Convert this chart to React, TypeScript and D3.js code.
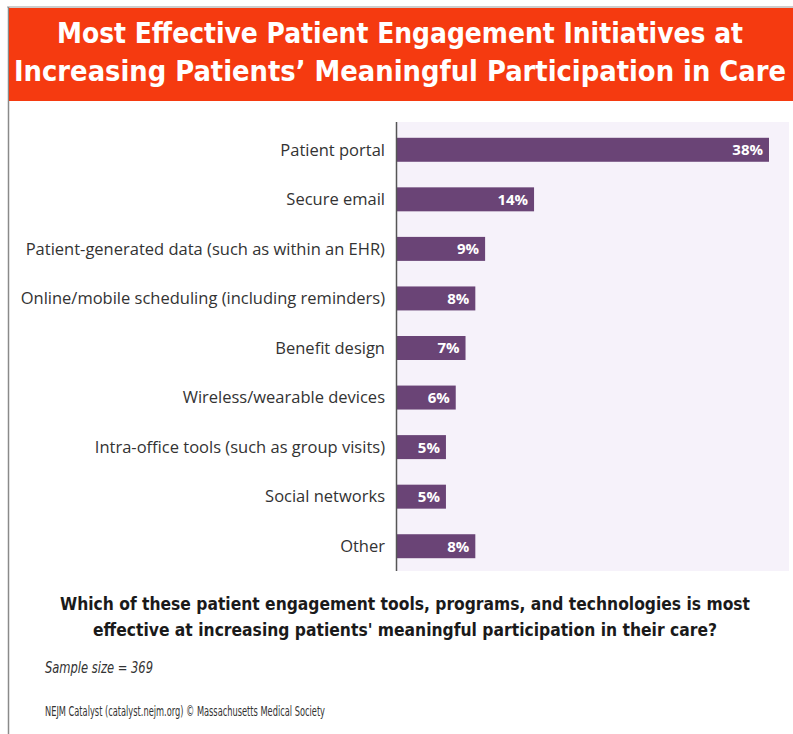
import React from "react";
import * as d3 from "d3";

const titleLines = [
  "Most Effective Patient Engagement Initiatives at",
  "Increasing Patients\u2019 Meaningful Participation in Care",
];
const categories = [
  "Patient portal",
  "Secure email",
  "Patient-generated data (such as within an EHR)",
  "Online/mobile scheduling (including reminders)",
  "Benefit design",
  "Wireless/wearable devices",
  "Intra-office tools (such as group visits)",
  "Social networks",
  "Other",
];
const values = [38, 14, 9, 8, 7, 6, 5, 5, 8];
const questionLines = [
  "Which of these patient engagement tools, programs, and technologies is most",
  "effective at increasing patients' meaningful participation in their care?",
];
const sampleText = "Sample size = 369";
const sourceText = "NEJM Catalyst (catalyst.nejm.org) \u00A9 Massachusetts Medical Society";

export default function App() {
  const W = 793;
  const H = 734;
  const plotLeft = 396;
  const plotRight = 789;
  const plotTop = 122;
  const plotBottom = 571;
  const x = d3.scaleLinear().domain([0, 38]).range([plotLeft + 1, 769]);
  const y = d3
    .scaleBand<string>()
    .domain(categories)
    .range([plotTop + 3, plotBottom])
    .paddingInner(0.516)
    .paddingOuter(0.258);
  const condensed = "'DejaVu Sans Condensed', 'Liberation Sans Narrow', 'Open Sans', sans-serif";
  const labelFont = "'Open Sans', 'Noto Sans', sans-serif";
  return (
    <svg
      width={W}
      height={H}
      style={{ position: "absolute", left: 0, top: 0, background: "#ffffff" }}
    >
      <rect x={0} y={0} width={W} height={H} fill="#ffffff" />
      <line x1={7} y1={7} x2={W} y2={7} stroke="#9a9a9a" strokeWidth={1} />
      <line x1={8.5} y1={7} x2={8.5} y2={H} stroke="#8a8a8a" strokeWidth={1.5} />
      <rect x={9} y={8} width={W - 9} height={93} fill="#f53a10" />
      {titleLines.map((t, i) => (
        <text
          key={i}
          x={400}
          y={43 + i * 38}
          textAnchor="middle"
          fill="#ffffff"
          fontFamily={condensed}
          fontWeight="bold"
          fontSize={29}
          textLength={i === 0 ? 686 : 772}
          lengthAdjust="spacingAndGlyphs"
        >
          {t}
        </text>
      ))}
      <rect
        x={plotLeft}
        y={plotTop}
        width={plotRight - plotLeft}
        height={plotBottom - plotTop}
        fill="#f6f2fa"
      />
      {categories.map((c, i) => {
        const yy = y(c)!;
        const bw = y.bandwidth();
        return (
          <g key={c}>
            <rect
              x={x(0)}
              y={yy}
              width={x(values[i]) - x(0)}
              height={bw}
              fill="#6a4476"
            />
            <text
              x={x(values[i]) - 6}
              y={yy + bw / 2}
              dy="0.36em"
              textAnchor="end"
              fill="#ffffff"
              fontFamily={labelFont}
              fontWeight="bold"
              fontSize={15}
            >
              {values[i]}%
            </text>
            <text
              x={385}
              y={yy + bw / 2}
              dy="0.35em"
              textAnchor="end"
              fill="#333333"
              fontFamily={labelFont}
              fontSize={16.5}
            >
              {c}
            </text>
          </g>
        );
      })}
      <line
        x1={plotLeft + 0.5}
        y1={plotTop}
        x2={plotLeft + 0.5}
        y2={plotBottom}
        stroke="#555555"
        strokeWidth={1.5}
      />
      {questionLines.map((t, i) => (
        <text
          key={i}
          x={405}
          y={610 + i * 26}
          textAnchor="middle"
          fill="#1a1a1a"
          fontFamily={condensed}
          fontWeight="bold"
          fontSize={18}
          textLength={i === 0 ? 690 : 624}
          lengthAdjust="spacingAndGlyphs"
        >
          {t}
        </text>
      ))}
      <text
        x={45}
        y={673}
        fill="#333333"
        fontFamily={condensed}
        fontStyle="italic"
        fontSize={15}
        textLength={108}
        lengthAdjust="spacingAndGlyphs"
      >
        {sampleText}
      </text>
      <text
        x={45}
        y={716}
        fill="#333333"
        fontFamily={condensed}
        fontSize={14}
        textLength={280}
        lengthAdjust="spacingAndGlyphs"
      >
        {sourceText}
      </text>
    </svg>
  );
}
